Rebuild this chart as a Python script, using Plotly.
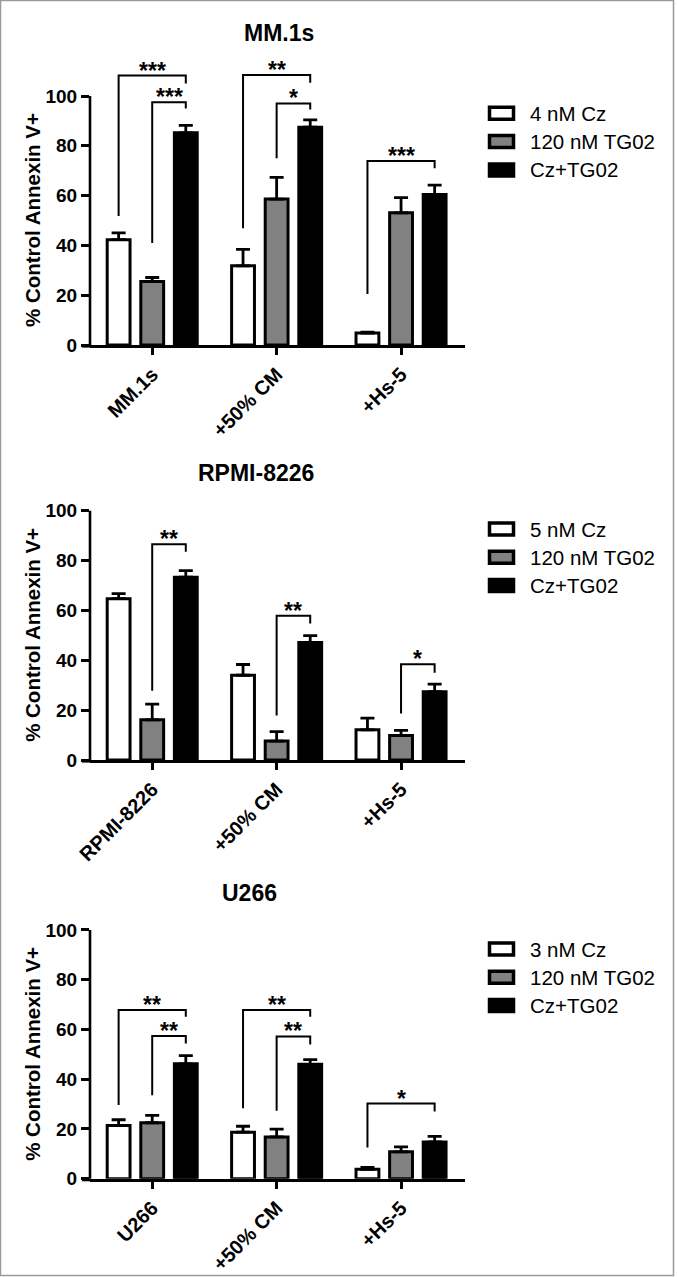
import plotly.graph_objects as go

# ---------------- data ----------------
panel_titles = ["MM.1s", "RPMI-8226", "U266"]

mm1s_categories = ["MM.1s", "+50% CM", "+Hs-5"]
rpmi_categories = ["RPMI-8226", "+50% CM", "+Hs-5"]
u266_categories = ["U266", "+50% CM", "+Hs-5"]

mm1s_series = ["4 nM Cz", "120 nM TG02", "Cz+TG02"]
rpmi_series = ["5 nM Cz", "120 nM TG02", "Cz+TG02"]
u266_series = ["3 nM Cz", "120 nM TG02", "Cz+TG02"]

mm1s_cz = [42.3, 31.8, 4.8]
mm1s_cz_err = [2.7, 6.6, 0.4]
mm1s_tg02 = [25.5, 58.6, 53.1]
mm1s_tg02_err = [1.6, 8.7, 6.1]
mm1s_combo = [85.2, 87.5, 60.4]
mm1s_combo_err = [3.0, 2.9, 3.8]

rpmi_cz = [64.7, 34.0, 12.1]
rpmi_cz_err = [2.0, 4.3, 4.7]
rpmi_tg02 = [16.1, 7.6, 9.8]
rpmi_tg02_err = [6.3, 3.8, 2.1]
rpmi_combo = [73.3, 47.1, 27.4]
rpmi_combo_err = [2.7, 2.8, 3.0]

u266_cz = [21.4, 18.7, 3.8]
u266_cz_err = [2.3, 2.4, 0.7]
u266_tg02 = [22.5, 16.8, 10.8]
u266_tg02_err = [3.0, 3.1, 2.0]
u266_combo = [46.2, 46.0, 14.8]
u266_combo_err = [3.3, 1.9, 2.2]

# significance brackets: (category, left series, right series, top, left leg end, right leg end, label)
mm1s_brackets = [
    (0, 0, 2, 108.2, 51.8, 105.0, "***"),
    (0, 1, 2, 97.5, 41.0, 95.0, "***"),
    (1, 0, 2, 108.4, 46.9, 105.3, "**"),
    (1, 1, 2, 97.0, 75.0, 94.6, "*"),
    (2, 0, 2, 73.9, 20.5, 71.0, "***"),
]
rpmi_brackets = [
    (0, 1, 2, 86.5, 27.8, 83.5, "**"),
    (1, 1, 2, 57.9, 17.8, 54.8, "**"),
    (2, 1, 2, 38.4, 18.7, 35.0, "*"),
]
u266_brackets = [
    (0, 0, 2, 67.8, 29.6, 65.1, "**"),
    (0, 1, 2, 57.4, 33.6, 54.4, "**"),
    (1, 0, 2, 67.8, 28.3, 65.1, "**"),
    (1, 1, 2, 57.2, 27.3, 54.0, "**"),
    (2, 0, 2, 30.2, 12.5, 27.0, "*"),
]

y_ticks = [0, 20, 40, 60, 80, 100]

panels = [
    (mm1s_categories, mm1s_series,
     [(mm1s_cz, mm1s_cz_err), (mm1s_tg02, mm1s_tg02_err), (mm1s_combo, mm1s_combo_err)], mm1s_brackets),
    (rpmi_categories, rpmi_series,
     [(rpmi_cz, rpmi_cz_err), (rpmi_tg02, rpmi_tg02_err), (rpmi_combo, rpmi_combo_err)], rpmi_brackets),
    (u266_categories, u266_series,
     [(u266_cz, u266_cz_err), (u266_tg02, u266_tg02_err), (u266_combo, u266_combo_err)], u266_brackets),
]

# ---------------- styling / layout ----------------
W, H = 677, 1277
FONT = "Liberation Sans, Arial, sans-serif"
fills = ["white", "#818181", "black"]
YMAX = 112
BARGAP = 0.19
SLOT = (1 - BARGAP) / 3

zero_px = [345.0, 760.0, 1178.7]
hundred_px = [96.0, 510.7, 930.0]
title_pos = [(279, 33), (256, 473), (249, 893)]
legend_top = [113.3, 529.0, 949.0]
legend_gap = 28.3
x_left_px, x_right_px = 90.0, 465.0


def px_x(p):
    return p / W


def px_y(p):
    return 1 - p / H


fig = go.Figure()
shapes = []
annotations = []

for i, (cats, series, vals, brackets) in enumerate(panels):
    n = i + 1
    xa = "x" if n == 1 else f"x{n}"
    ya = "y" if n == 1 else f"y{n}"
    scale = (zero_px[i] - hundred_px[i]) / 100.0
    top_px = zero_px[i] - YMAX * scale
    ydom = [px_y(zero_px[i]), px_y(top_px)]
    xdom = [px_x(x_left_px), px_x(x_right_px)]

    for s, ((v, e), name) in enumerate(zip(vals, series)):
        fig.add_trace(go.Bar(
            x=cats, y=v, name=name, xaxis=xa, yaxis=ya,
            marker=dict(color=fills[s], line=dict(color="black", width=3)),
            error_y=dict(type="data", array=e, arrayminus=[0] * len(e), symmetric=False,
                         color="black", thickness=2.8, width=7),
            showlegend=False, hoverinfo="skip",
        ))

    axis_x = dict(domain=xdom, anchor=ya, type="category", range=[-0.5, 2.514],
                  automargin=False,
                  showline=True, linecolor="black", linewidth=2.6,
                  ticks="outside", ticklen=7, tickwidth=2.6, tickcolor="black",
                  tickangle=-45, tickfont=dict(family=FONT, size=20, color="black", weight="bold"),
                  showgrid=False, zeroline=False, fixedrange=True)
    axis_y = dict(domain=ydom, anchor=xa, range=[0, YMAX], tickvals=y_ticks,
                  automargin=False,
                  showline=False, ticks="outside", ticklen=8, tickwidth=2.6, tickcolor="black",
                  tickfont=dict(family=FONT, size=19, color="black", weight="bold"),
                  showgrid=False, zeroline=False, fixedrange=True)
    fig.update_layout(**{("xaxis" if n == 1 else f"xaxis{n}"): axis_x,
                         ("yaxis" if n == 1 else f"yaxis{n}"): axis_y})

    # y axis line from 0 to 100 and small x-axis extension
    shapes.append(dict(type="line", xref="paper", yref="paper",
                       x0=px_x(x_left_px), x1=px_x(x_left_px),
                       y0=px_y(zero_px[i]), y1=px_y(hundred_px[i]),
                       line=dict(color="black", width=2.6)))
    shapes.append(dict(type="line", xref="paper", yref="paper",
                       x0=px_x(x_left_px - 8), x1=px_x(x_left_px),
                       y0=px_y(zero_px[i] + 1.3), y1=px_y(zero_px[i] + 1.3),
                       line=dict(color="black", width=2.6)))

    # brackets
    for (c, sl, sr, top, lb, rb, lab) in brackets:
        xl = c + (sl - 1) * SLOT
        xr = c + (sr - 1) * SLOT
        shapes.append(dict(type="path", xref=xa, yref=ya,
                           path=f"M {xl} {lb} L {xl} {top} L {xr} {top} L {xr} {rb}",
                           line=dict(color="black", width=2)))
        annotations.append(dict(x=(xl + xr) / 2, y=top, xref=xa, yref=ya, text=lab,
                                showarrow=False, yanchor="middle", yshift=5,
                                font=dict(family=FONT, size=23, color="black", weight="bold")))

    # panel title
    annotations.append(dict(x=px_x(title_pos[i][0]), y=px_y(title_pos[i][1]), xref="paper", yref="paper",
                            text=panel_titles[i], showarrow=False, xanchor="center", yanchor="middle",
                            font=dict(family=FONT, size=23, color="black", weight="bold")))
    # y axis title
    annotations.append(dict(x=px_x(32.5), y=50, xref="paper", yref=ya,
                            text="% Control Annexin V+", showarrow=False, textangle=-90,
                            xanchor="center", yanchor="middle",
                            font=dict(family=FONT, size=20.5, color="black", weight="bold")))

    # legend
    for s, name in enumerate(series):
        cy = legend_top[i] + s * legend_gap
        shapes.append(dict(type="rect", xref="paper", yref="paper",
                           x0=px_x(489.5), x1=px_x(513.5), y0=px_y(cy + 6), y1=px_y(cy - 6),
                           fillcolor=fills[s], line=dict(color="black", width=3.5)))
        annotations.append(dict(x=px_x(528), y=px_y(cy), xref="paper", yref="paper",
                                text=name, showarrow=False, xanchor="left", yanchor="middle",
                                font=dict(family=FONT, size=20.5, color="black")))

# outer gray frame
shapes.append(dict(type="rect", xref="paper", yref="paper",
                   x0=px_x(0.5), x1=px_x(673.5), y0=px_y(1275.5), y1=px_y(0.5),
                   line=dict(color="#9a9a9a", width=1.5), fillcolor="rgba(0,0,0,0)"))

fig.update_layout(
    template="none",
    width=W, height=H,
    margin=dict(l=0, r=0, t=0, b=0, autoexpand=False),
    paper_bgcolor="white", plot_bgcolor="white",
    barmode="group", bargap=BARGAP, bargroupgap=0.32,
    showlegend=False,
    shapes=shapes, annotations=annotations,
    font=dict(family=FONT, color="black"),
)

fig.write_html(
    "out.html",
    config={"displayModeBar": False},
    post_script="document.body.style.margin='0';document.body.style.overflow='hidden';",
)
